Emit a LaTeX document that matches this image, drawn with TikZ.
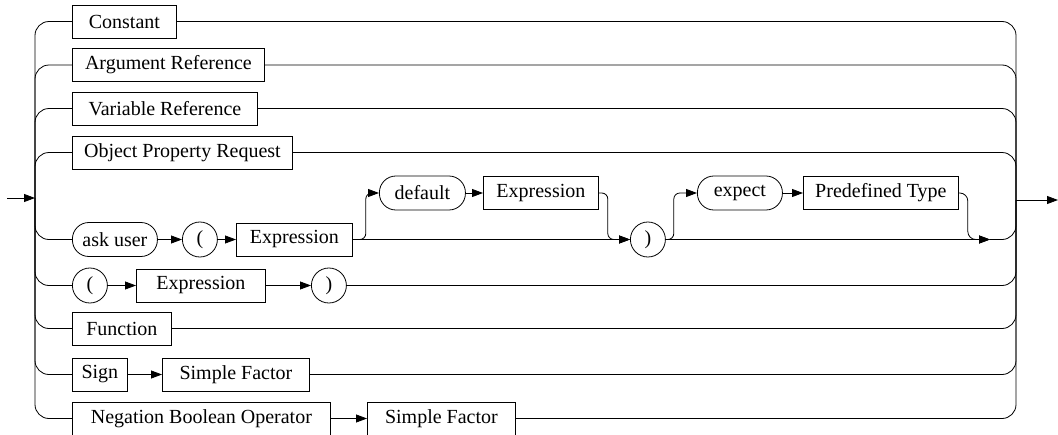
\documentclass[tikz,border=0pt]{standalone}
\usepackage{fontspec}
\setmainfont{Liberation Serif}
\usetikzlibrary{arrows.meta}
\tikzset{
  term/.style  = {rectangle, draw=black, line width=0.8pt, minimum height=33pt,
                  inner sep=0pt, font=\fontsize{20}{24}\selectfont, anchor=west},
  kword/.style = {rectangle, rounded corners=16.5pt, draw=black, line width=0.8pt,
                  minimum height=34pt, inner sep=0pt, font=\fontsize{20}{24}\selectfont, anchor=west},
  sym/.style   = {circle, draw=black, line width=0.8pt, minimum size=35pt,
                  inner sep=0pt, font=\fontsize{20}{24}\selectfont, anchor=west},
  rail/.style  = {line width=0.8pt, rounded corners=14pt},
  flow/.style  = {-{Triangle[length=11pt,width=8pt]}, line width=0.8pt},
}

\begin{document}
\begin{tikzpicture}[x=1pt, y=-1pt]
      \clip (0,0) rectangle (1058,434);
      \coordinate (start) at (7,198);
      \coordinate (in)    at (35,198);
      \coordinate (out)   at (1016,200);
      \coordinate (end)   at (1058,200);
      \coordinate (join)  at (990,239.5);

      \node[term, minimum width=104pt] (constant) at (72,21.5)  {Constant};
      \node[term, minimum width=192pt] (argref)   at (72,65)    {Argument Reference};
      \node[term, minimum width=185pt] (varref)   at (72,108.5) {Variable Reference};
      \node[term, minimum width=220pt] (objprop)  at (72,152.5) {Object Property Request};

      \node[kword, minimum width=85pt]  (askuser) at (72,239.5)  {ask user};
      \node[sym]                        (aopen)   at (182,239.5) {(};
      \node[term, minimum width=116pt]  (aexpr)   at (236,239.5) {Expression};
      \node[kword, minimum width=86pt]  (default) at (379,193)   {default};
      \node[term, minimum width=115pt]  (dexpr)   at (483,193)   {Expression};
      \node[sym]                        (aclose)  at (630,239.5) {)};
      \node[kword, minimum width=85pt]  (expect)  at (697,193)   {expect};
      \node[term, minimum width=155pt]  (ptype)   at (803,193)   {Predefined Type};

      \node[sym]                        (popen)   at (72,285.5)  {(};
      \node[term, minimum width=129pt]  (pexpr)   at (136,285.5) {Expression};
      \node[sym]                        (pclose)  at (311,285.5) {)};

      \node[term, minimum width=99pt]   (function) at (72,328.5) {Function};
      \node[term, minimum width=55pt]   (sign)     at (72,374.5) {Sign};
      \node[term, minimum width=147pt]  (sfact)    at (162,374.5) {Simple Factor};
      \node[term, minimum width=258pt]  (negop)    at (72,418.5) {Negation Boolean Operator};
      \node[term, minimum width=148pt]  (nfact)    at (367,418.5) {Simple Factor};

      % entry and exit
      \draw[flow] (start) -- (in);
      \draw[flow] (out) -- (end);

      % left rail
      \foreach \n in {constant,argref,varref,objprop,askuser,popen,function,sign,negop}
        \draw[rail] (in) |- (\n.west);

      % right rail
      \foreach \n in {constant,argref,varref,objprop,pclose,function,sfact,nfact}
        \draw[rail] (\n.east) -| (out);
      \draw[rail] (join) -| (out);

      % ask user branch
      \draw[flow] (askuser) -- (aopen);
      \draw[flow] (aopen) -- (aexpr);
      \draw[flow] (aexpr) -- (aclose);
      \draw[flow, rounded corners=6pt] (aexpr.east) -- ++(13,0) |- (default.west);
      \draw[flow] (default) -- (dexpr);
      \draw[flow, rounded corners=6pt] (dexpr.east) -- ++(9,0) |- (aclose.west);
      \draw[flow] (aclose) -- (join);
      \draw[flow, rounded corners=6pt] (aclose.east) -- ++(8,0) |- (expect.west);
      \draw[flow] (expect) -- (ptype);
      \draw[flow, rounded corners=8pt] (ptype.east) -- ++(9,0) |- (join);

      % parenthesised expression
      \draw[flow] (popen) -- (pexpr);
      \draw[flow] (pexpr) -- (pclose);

      % sign and negation
      \draw[flow] (sign) -- (sfact);
      \draw[flow] (negop) -- (nfact);
    \end{tikzpicture}
\end{document}
